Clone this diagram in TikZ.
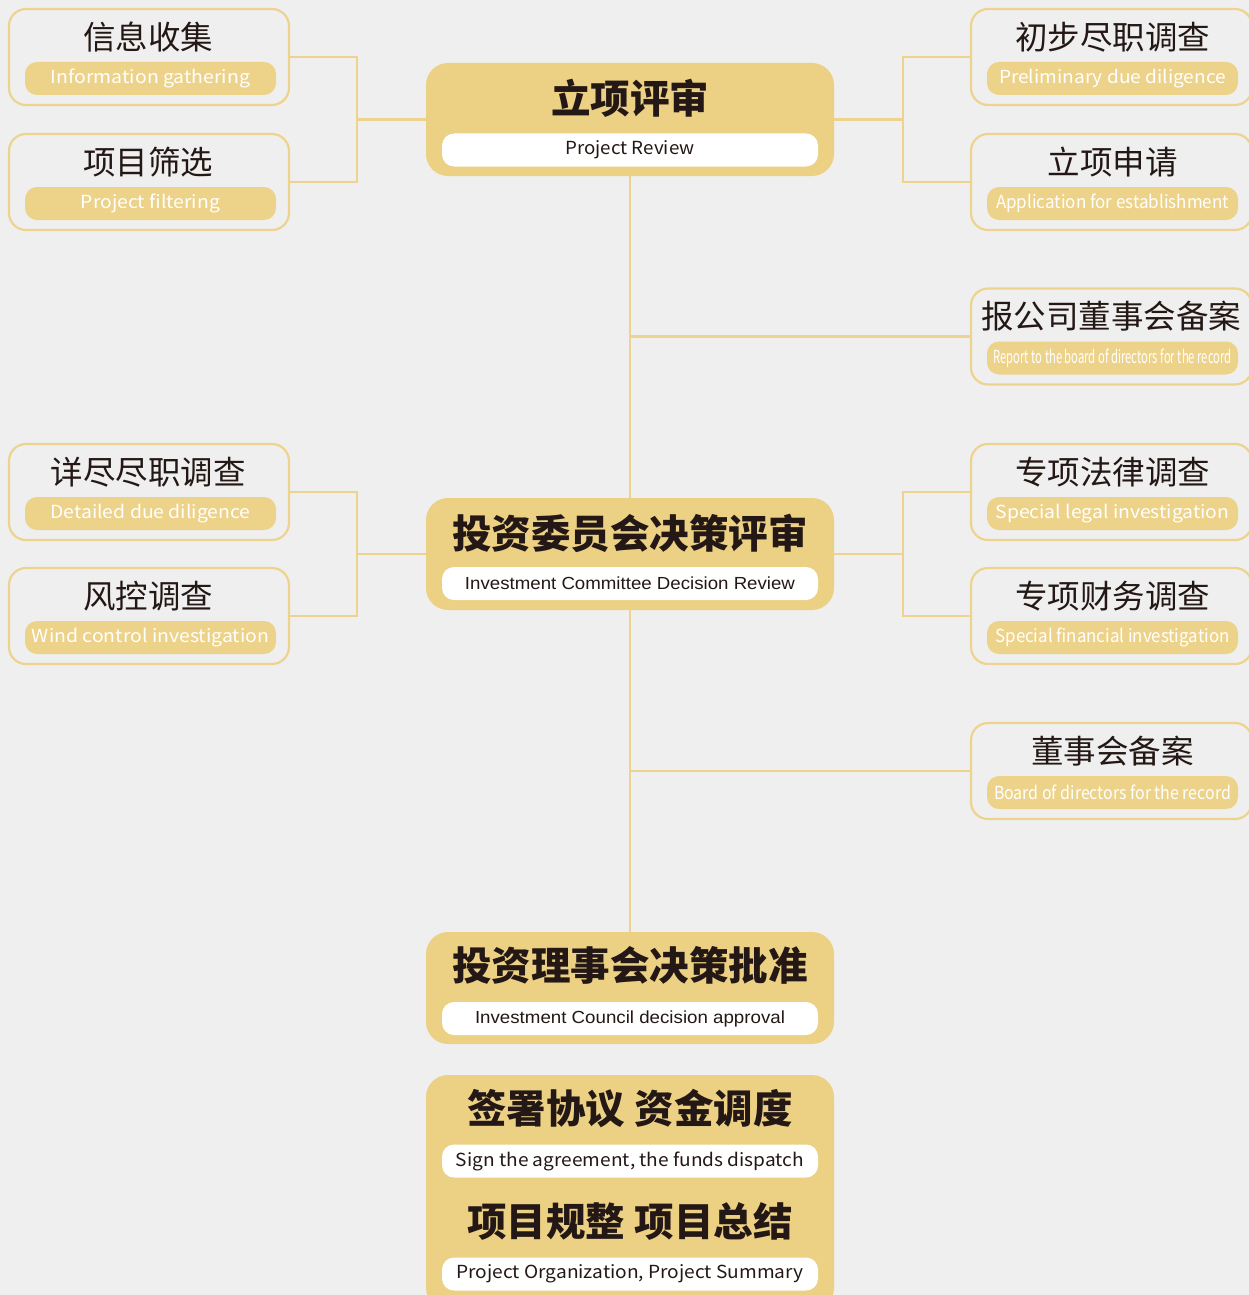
\documentclass[tikz,border=0pt]{standalone}
\usepackage{fontspec}
\usepackage{graphicx}
\newfontfamily\cjk{Noto Sans CJK SC}
\newfontfamily\cjkblack{Noto Sans CJK SC}[UprightFont=* Black]
\newfontfamily\arialf{Liberation Sans}
\newcommand{\fitw}[2]{\resizebox{#1pt}{\height}{#2}}
\definecolor{bggray}{HTML}{EFEFEF}
\definecolor{linegold}{HTML}{EDD38E}
\definecolor{pillgold}{HTML}{EDD28A}
\definecolor{maingold}{HTML}{ECD084}
\definecolor{txtdark}{HTML}{231815}
\tikzset{
  outerbox/.style={draw=linegold, line width=2.2pt, rounded corners=17pt, minimum width=280pt, minimum height=96pt, inner sep=0pt},
  goldpill/.style={fill=pillgold, rounded corners=12pt, minimum width=251pt, minimum height=33pt, inner sep=0pt},
  mainbox/.style={fill=maingold, rounded corners=22pt, minimum width=408pt, inner sep=0pt},
  whitepill/.style={fill=white, rounded corners=12pt, minimum width=376pt, minimum height=33pt, inner sep=0pt},
  subtitle/.style={font=\cjk\fontsize{32.5}{36}\selectfont, text=txtdark, inner sep=0pt},
  maintitle/.style={font=\cjkblack\fontsize{39.5}{44}\selectfont, text=txtdark, inner sep=0pt},
  pilltext/.style={font=\cjk\fontsize{18}{20}\selectfont, text=white, inner sep=0pt},
  darktext/.style={font=\cjk\fontsize{18}{20}\selectfont, text=txtdark, inner sep=0pt},
  arialtext/.style={font=\arialf\fontsize{17.5}{20}\selectfont, text=txtdark, inner sep=0pt},
  conn/.style={draw=linegold, line width=2.2pt}
}
\begin{document}
\begin{tikzpicture}[x=1pt,y=-1pt]
\fill[bggray] (0,0) rectangle (1249,1295);
\useasboundingbox (0,0) rectangle (1249,1295);
\clip (0,0) rectangle (1249,1295);

% ---------- left boxes ----------
\node[outerbox] (lb1) at (149,57) {};
\node[goldpill] (lb1p) at (150.5,78.5) {};
\node[subtitle] (lb1t) at (148,37) {信息收集};
\node[pilltext] (lb1e) at (lb1p) {\fitw{199}{Information gathering}};

\node[outerbox] (lb2) at (149,182) {};
\node[goldpill] (lb2p) at (150.5,203.5) {};
\node[subtitle] (lb2t) at (148,162) {项目筛选};
\node[pilltext] (lb2e) at (lb2p) {\fitw{139}{Project filtering}};

\node[outerbox] (lb3) at (149,492) {};
\node[goldpill] (lb3p) at (150.5,513.5) {};
\node[subtitle] (lb3t) at (148,472) {详尽尽职调查};
\node[pilltext] (lb3e) at (lb3p) {\fitw{200}{Detailed due diligence}};

\node[outerbox] (lb4) at (149,616) {};
\node[goldpill] (lb4p) at (150.5,637.5) {};
\node[subtitle] (lb4t) at (148,596) {风控调查};
\node[pilltext] (lb4e) at (lb4p) {\fitw{237}{Wind control investigation}};

% ---------- right boxes ----------
\node[outerbox, minimum width=281pt] (rb1) at (1111.5,57) {};
\node[goldpill] (rb1p) at (1112.5,78.5) {};
\node[subtitle] (rb1t) at (1112.5,37) {初步尽职调查};
\node[pilltext] (rb1e) at (rb1p) {\fitw{227}{Preliminary due diligence}};

\node[outerbox, minimum width=281pt] (rb2) at (1111.5,182) {};
\node[goldpill] (rb2p) at (1112.5,203.5) {};
\node[subtitle] (rb2t) at (1112.5,162) {立项申请};
\node[pilltext] (rb2e) at (rb2p) {\fitw{233}{Application for establishment}};

\node[outerbox, minimum width=281pt] (rb3) at (1111.5,336.5) {};
\node[goldpill] (rb3p) at (1112.5,358) {};
\node[subtitle] (rb3t) at (1111,316.5) {报公司董事会备案};
\node[pilltext] (rb3e) at (rb3p) {\fitw{238}{Report to the board of directors for the record}};

\node[outerbox, minimum width=281pt] (rb4) at (1111.5,492) {};
\node[goldpill] (rb4p) at (1112.5,513.5) {};
\node[subtitle] (rb4t) at (1112.5,472) {专项法律调查};
\node[pilltext] (rb4e) at (rb4p) {\fitw{234}{Special legal investigation}};

\node[outerbox, minimum width=281pt] (rb5) at (1111.5,616) {};
\node[goldpill] (rb5p) at (1112.5,637.5) {};
\node[subtitle] (rb5t) at (1112.5,596) {专项财务调查};
\node[pilltext] (rb5e) at (rb5p) {\fitw{234}{Special financial investigation}};

\node[outerbox, minimum width=281pt] (rb6) at (1111.5,771) {};
\node[goldpill] (rb6p) at (1112.5,792.5) {};
\node[subtitle] (rb6t) at (1112.5,751) {董事会备案};
\node[pilltext] (rb6e) at (rb6p) {\fitw{237}{Board of directors for the record}};

% ---------- main boxes ----------
\node[mainbox, minimum height=113pt] (m1) at (630,119.5) {};
\node[maintitle] (m1t) at (630,98) {立项评审};
\node[whitepill] (m1p) at (630,150) {};
\node[darktext] (m1e) at (m1p) {\fitw{129}{Project Review}};

\node[mainbox, minimum height=112pt] (m2) at (630,554) {};
\node[maintitle] (m2t) at (630,533) {投资委员会决策评审};
\node[whitepill] (m2p) at (630,583.5) {};
\node[arialtext] (m2e) at (m2p) {\fitw{330}{Investment Committee Decision Review}};

\node[mainbox, minimum height=112pt] (m3) at (630,988) {};
\node[maintitle] (m3t) at (630,965) {投资理事会决策批准};
\node[whitepill] (m3p) at (630,1018.5) {};
\node[arialtext] (m3e) at (m3p) {\fitw{310}{Investment Council decision approval}};

\node[mainbox, minimum height=235pt] (m4) at (630,1192.5) {};
\node[maintitle] (m4t1) at (630,1108.5) {签署协议 资金调度};
\node[whitepill] (m4p1) at (630,1161) {};
\node[darktext] (m4e1) at (m4p1) {\fitw{348}{Sign the agreement, the funds dispatch}};
\node[maintitle] (m4t2) at (630,1221.5) {项目规整 项目总结};
\node[whitepill] (m4p2) at (630,1274) {};
\node[darktext] (m4e2) at (m4p2) {\fitw{347}{Project Organization, Project Summary}};

% ---------- connectors ----------
\coordinate (jl1) at (357,119.5);
\coordinate (jr1) at (903,119.5);
\coordinate (jl2) at (357,554);
\coordinate (jr2) at (903,554);
\coordinate (t1) at (630,336.5);
\coordinate (t2) at (630,771);

\draw[conn] (lb1.east) -| (jl1) |- (lb2.east);
\draw[conn] (jl1) -- (m1.west);
\draw[conn] (rb1.west) -| (jr1) |- (rb2.west);
\draw[conn] (jr1) -- (m1.east);

\draw[conn] (lb3.east) -| (jl2) |- (lb4.east);
\draw[conn] (jl2) -- (m2.west);
\draw[conn] (rb4.west) -| (jr2) |- (rb5.west);
\draw[conn] (jr2) -- (m2.east);

\draw[conn] (m1.south) -- (m2.north);
\draw[conn] (m2.south) -- (m3.north);
\draw[conn] (t1) -- (rb3.west);
\draw[conn] (t2) -- (rb6.west);
\end{tikzpicture}
\end{document}
